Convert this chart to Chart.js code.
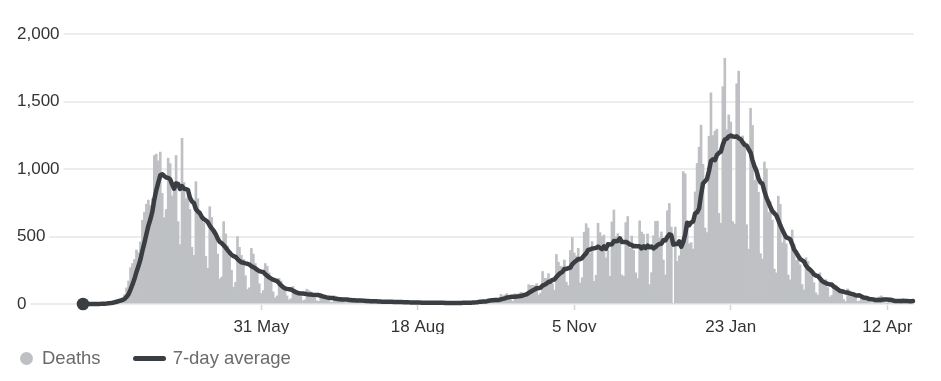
<!DOCTYPE html>
<html lang="en">
<head>
<meta charset="utf-8">
<title>Deaths</title>
<script src="https://cdn.jsdelivr.net/npm/chart.js@4.4.1/dist/chart.umd.min.js"></script>
<style>
    html, body { margin: 0; padding: 0; background: #fff; }
    #wrap { position: relative; width: 941px; height: 381px; }
    #legend {
        position: absolute; left: 20px; top: 347px; height: 22px;
        display: flex; align-items: center;
        font: 18.5px "Liberation Sans", Arial, sans-serif; color: #6b6b6b;
    }
    .item { display: flex; align-items: center; margin-right: 32px; white-space: nowrap; line-height: 22px; }
    .dot { width: 13px; height: 13px; border-radius: 50%; margin-right: 9px; }
    .dash { width: 33px; height: 5px; border-radius: 3px; margin-right: 7px; }
</style>
</head>
<body>
<div id="wrap">
    <canvas id="grafica" width="941" height="381"></canvas>
    <div id="legend"></div>
</div>
<script>
// daily deaths, one row per week (Mon..Sun), from Mon 2 Mar 2020
const deaths = [
    0, 0, 0, 0, 1, 1, 1,
    1, 2, 2, 4, 3, 10, 14,
    15, 20, 25, 30, 35, 40, 45,
    70, 120, 170, 270, 300, 330, 400,
    380, 460, 620, 680, 740, 770, 730,
    780, 1100, 1110, 1060, 1125, 820, 640,
    700, 1080, 1040, 800, 900, 1100, 610,
    440, 1227, 900, 780, 850, 700, 420,
    360, 906, 780, 690, 650, 600, 354,
    264, 721, 640, 560, 480, 370, 185,
    200, 610, 520, 430, 350, 250, 125,
    160, 499, 420, 360, 330, 210, 107,
    120, 412, 370, 300, 250, 150, 78,
    100, 300, 280, 230, 180, 90, 45,
    60, 190, 170, 140, 120, 60, 30,
    40, 130, 110, 100, 80, 55, 24,
    30, 110, 100, 90, 70, 45, 24,
    20, 80, 70, 60, 45, 28, 12,
    15, 60, 50, 45, 35, 22, 11,
    10, 45, 40, 35, 28, 16, 8,
    8, 38, 32, 28, 22, 13, 6,
    7, 30, 26, 22, 18, 11, 5,
    6, 25, 22, 19, 15, 9, 4,
    5, 20, 20, 16, 12, 8, 4,
    6, 16, 14, 12, 12, 8, 5,
    4, 16, 12, 12, 10, 6, 3,
    2, 6, 12, 10, 8, 12, 2,
    3, 8, 14, 16, 10, 9, 5,
    9, 20, 18, 21, 27, 18, 17,
    11, 37, 37, 40, 34, 34, 17,
    13, 71, 59, 66, 77, 49, 33,
    19, 76, 70, 77, 87, 81, 65,
    50, 143, 137, 138, 136, 150, 67,
    80, 241, 191, 189, 224, 174, 151,
    102, 367, 310, 280, 274, 326, 162,
    136, 397, 492, 378, 355, 413, 156,
    194, 532, 595, 563, 376, 462, 168,
    213, 598, 529, 501, 511, 341, 398,
    206, 608, 696, 498, 521, 479, 215,
    205, 603, 648, 414, 504, 397, 231,
    189, 616, 533, 516, 424, 519, 144,
    232, 506, 612, 613, 489, 534, 326,
    215, 691, 744, 570, 0, 570, 316,
    357, 414, 981, 964, 613, 445, 454,
    407, 830, 1041, 1162, 1325, 1035, 563,
    529, 1243, 1564, 1248, 1280, 1295, 671,
    599, 1610, 1820, 1290, 1401, 1348, 610,
    592, 1631, 1725, 1239, 1245, 1200, 587,
    406, 1449, 1322, 915, 1014, 828, 373,
    333, 1052, 1001, 678, 758, 621, 258,
    230, 799, 738, 454, 533, 445, 215,
    178, 548, 442, 323, 345, 290, 144,
    104, 343, 315, 242, 236, 158, 82,
    65, 231, 190, 175, 181, 121, 52,
    64, 110, 141, 95, 101, 96, 33,
    17, 112, 98, 70, 70, 58, 19,
    23, 56, 43, 52, 51, 10, 10,
    9, 26, 45, 53, 60, 34, 7,
    4, 23, 33, 22, 34, 32, 10,
    4, 33, 22, 29, 18, 32, 17
];

// 7-day average line, same days
const sevenDayAverage = [
    0, 0, 0, 0, 0.1, 0.3, 0.4,
    0.6, 0.9, 1.1, 1.7, 2, 3.3, 5.1,
    7.1, 9.7, 13, 16.7, 21.3, 25.6, 30,
    37.9, 52.1, 72.9, 107.1, 145, 186.4, 237.1,
    281, 330, 394, 453, 516, 579, 626,
    683, 774, 844, 899, 954, 961, 948,
    937, 934, 924, 886, 854, 894, 890,
    853, 874, 854, 851, 844, 787, 760,
    748, 702, 685, 672, 644, 629, 620,
    606, 580, 560, 541, 517, 484, 460,
    451, 435, 418, 399, 381, 364, 355,
    349, 333, 319, 309, 306, 301, 298,
    292, 280, 273, 264, 253, 244, 240,
    237, 221, 208, 198, 188, 180, 175,
    169, 154, 138, 125, 116, 112, 110,
    107, 99, 90, 84, 79, 78, 77,
    76, 73, 71, 70, 68, 67, 67,
    66, 61, 57, 53, 49, 47, 45,
    44, 41, 39, 36, 35, 34, 34,
    33, 31, 30, 28, 27, 26, 26,
    26, 25, 24, 23, 22, 21, 21,
    21, 20, 19, 18, 17, 17, 17,
    17, 16, 16, 15, 15, 14, 14,
    14, 13, 13, 13, 12, 12, 12,
    12, 12, 11, 10, 10, 10, 10,
    10, 10, 10, 10, 10, 9, 9,
    9, 7, 7, 7, 7, 8, 7,
    8, 8, 8, 9, 9, 9, 9,
    10, 12, 12, 13, 16, 17, 19,
    19, 21, 24, 27, 28, 30, 30,
    30, 35, 38, 42, 48, 50, 53,
    53, 54, 56, 57, 59, 63, 68,
    72, 82, 91, 100, 107, 117, 117,
    122, 136, 143, 151, 163, 167, 179,
    182, 200, 217, 230, 237, 259, 260,
    265, 269, 295, 309, 321, 333, 332,
    341, 360, 375, 401, 404, 411, 413,
    416, 425, 416, 407, 426, 409, 442,
    441, 442, 466, 465, 467, 487, 460,
    460, 460, 453, 441, 438, 427, 429,
    427, 428, 412, 427, 415, 433, 420,
    426, 411, 422, 436, 445, 447, 473,
    471, 497, 516, 510, 440, 445, 444,
    464, 424, 458, 515, 602, 584, 604,
    611, 671, 679, 707, 809, 893, 909,
    926, 985, 1060, 1072, 1066, 1103, 1119,
    1129, 1181, 1218, 1224, 1241, 1248, 1240,
    1239, 1242, 1228, 1221, 1199, 1177, 1174,
    1148, 1122, 1064, 1018, 985, 932, 901,
    891, 834, 788, 754, 718, 688, 672,
    657, 621, 583, 551, 519, 494, 488,
    480, 444, 402, 383, 357, 334, 324,
    314, 284, 266, 255, 239, 220, 211,
    206, 190, 172, 162, 155, 149, 145,
    145, 128, 121, 109, 98, 94, 91,
    85, 85, 79, 75, 71, 65, 63,
    64, 56, 48, 46, 43, 36, 35,
    33, 29, 29, 29, 30, 34, 33,
    33, 32, 31, 26, 22, 22, 23,
    23, 24, 22, 23, 21, 21, 22
];

const tickDates = ["2020-05-31", "2020-08-18", "2020-11-05", "2021-01-23", "2021-04-12"];
const tickLabels = ["31 May", "18 Aug", "5 Nov", "23 Jan", "12 Apr"];
const yTicks = [0, 500, 1000, 1500, 2000];

const colorBarras = "#bec0c3";
const colorLinea = "#3a3d41";
const colorGrid = "#ececec";
const colorTexto = "#333333";

const inicio = Date.UTC(2020, 2, 2);
const fechas = deaths.map((_, i) => new Date(inicio + i * 86400000).toISOString().slice(0, 10));
const etiquetaTick = new Map(tickDates.map((fecha, k) => [fechas.indexOf(fecha), tickLabels[k]]));

Chart.defaults.font.family = '"Liberation Sans", Arial, Helvetica, sans-serif';
Chart.defaults.color = colorTexto;

const chart = new Chart(document.getElementById("grafica"), {
    type: "bar",
    data: {
        labels: fechas,
        datasets: [
            {
                type: "line",
                label: "7-day average",
                data: sevenDayAverage,
                borderColor: colorLinea,
                backgroundColor: colorLinea,
                borderWidth: 4.5,
                borderJoinStyle: "round",
                borderCapStyle: "round",
                tension: 0,
                pointRadius: ctx => ctx.dataIndex === 0 ? 6.3 : 0,
                pointHoverRadius: 0,
                pointBorderWidth: 0,
                pointBackgroundColor: colorLinea,
                clip: false,
                order: 0
            },
            {
                label: "Deaths",
                data: deaths,
                backgroundColor: colorBarras,
                barPercentage: 1,
                categoryPercentage: 1,
                order: 1
            }
        ]
    },
    options: {
        responsive: false,
        animation: false,
        devicePixelRatio: 1,
        layout: { padding: { top: 34, left: 17, right: 27, bottom: 47 } },
        plugins: {
            legend: { display: false },
            tooltip: { enabled: false }
        },
        scales: {
            x: {
                border: { display: false },
                grid: {
                    drawOnChartArea: false,
                    drawTicks: true,
                    tickLength: 6,
                    offset: false,
                    tickWidth: 1.5,
                    tickColor: ctx => etiquetaTick.has(ctx.index) ? "#d6d6d6" : "rgba(0,0,0,0)"
                },
                ticks: {
                    autoSkip: false,
                    maxRotation: 0,
                    minRotation: 0,
                    padding: 7,
                    color: colorTexto,
                    font: { size: 17 },
                    callback: (valor, i) => etiquetaTick.get(i) || ""
                },
                afterFit: scale => { scale.height = 30; }
            },
            y: {
                min: 0,
                max: 2000,
                border: { display: false },
                grid: { color: colorGrid, lineWidth: 2, drawTicks: true, tickLength: 65 },
                afterBuildTicks: scale => { scale.ticks = yTicks.map(v => ({ value: v })); },
                ticks: {
                    crossAlign: "far",
                    color: colorTexto,
                    font: { size: 17 },
                    showLabelBackdrop: true,
                    backdropColor: "#ffffff",
                    backdropPadding: { top: 1, bottom: 1, left: 0, right: 4 },
                    callback: valor => Number(valor).toLocaleString("en-US")
                },
                afterFit: scale => { scale.width = 65; }
            }
        }
    }
});

// legend built from the chart's own datasets, bars first
const leyenda = document.getElementById("legend");
[chart.data.datasets[1], chart.data.datasets[0]].forEach(ds => {
    const item = document.createElement("div");
    item.className = "item";
    const marca = document.createElement("span");
    marca.className = ds.type === "line" ? "dash" : "dot";
    marca.style.background = ds.type === "line" ? ds.borderColor : ds.backgroundColor;
    item.appendChild(marca);
    item.appendChild(document.createTextNode(ds.label));
    leyenda.appendChild(item);
});
</script>
</body>
</html>
